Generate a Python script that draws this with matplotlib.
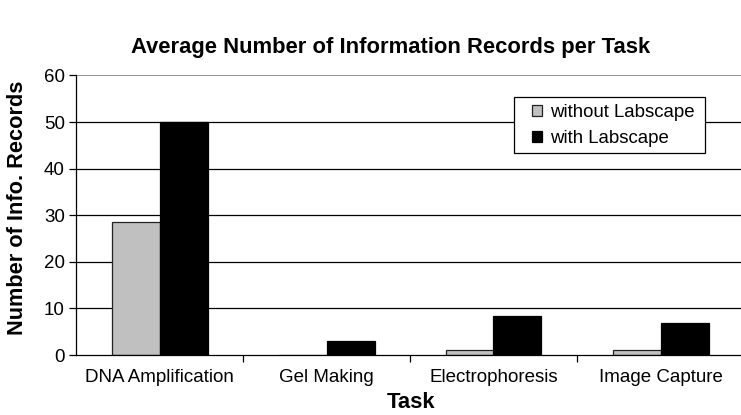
import matplotlib
matplotlib.use("Agg")
import matplotlib.pyplot as plt
from matplotlib.patches import Rectangle
import numpy as np

plt.rcParams['font.family'] = ['Liberation Sans', 'DejaVu Sans']

tasks = ["DNA Amplification", "Gel Making", "Electrophoresis", "Image Capture"]
without_labscape = [28.6, 0, 1.0, 1.0]
with_labscape = [50.0, 3.0, 8.4, 6.9]
series_names = ["without Labscape", "with Labscape"]
y_ticks = [0, 10, 20, 30, 40, 50, 60]

W, H = 741, 415
fig = plt.figure(figsize=(W / 100, H / 100), dpi=100)
# plot area in pixels: left 76, right 744 (slightly past the edge), top 76, bottom 355
left, right, top, bottom = 76, 744, 75.5, 355
ax = fig.add_axes([left / W, 1 - bottom / H, (right - left) / W, (bottom - top) / H])

x = np.arange(len(tasks))
bw = 48 / 167
ax.bar(x - bw / 2, without_labscape, width=bw, color="#c0c0c0",
       edgecolor="#222222", linewidth=0.9, label=series_names[0], zorder=3)
ax.bar(x + bw / 2, with_labscape, width=bw, color="black",
       edgecolor="black", linewidth=0.9, label=series_names[1], zorder=3)

ax.set_xlim(-0.5, len(tasks) - 0.5)
ax.set_ylim(0, 60)
ax.set_yticks(y_ticks)
ax.tick_params(axis='y', labelsize=13.5, length=5, width=0.9, direction='out', pad=3)
ax.set_xticks(x)
ax.set_xticklabels(tasks, fontsize=13.5)
ax.tick_params(axis='x', length=0, pad=10)
ax.set_xticks(np.arange(0.5, len(tasks) - 0.5, 1.0), minor=True)
ax.tick_params(axis='x', which='minor', length=5, width=0.9, direction='out')

for v in y_ticks[1:-1]:
    ax.axhline(v, color="black", linewidth=0.9, zorder=1)
ax.axhline(60, color="#808080", linewidth=1.2, zorder=1)

for s in ["top", "right"]:
    ax.spines[s].set_visible(False)
ax.spines["left"].set_linewidth(0.9)
ax.spines["bottom"].set_linewidth(0.9)
ax.spines["bottom"].set_zorder(4)

fig.text(391 / W, 1 - 47 / H, "Average Number of Information Records per Task",
         ha="center", va="center", fontsize=15.8, fontweight="bold")
fig.text(18 / W, 1 - 208 / H, "Number of Info. Records", rotation=90,
         ha="center", va="center", fontsize=15.7, fontweight="bold")
fig.text(411 / W, 1 - 402 / H, "Task", ha="center", va="center",
         fontsize=15.8, fontweight="bold")

# legend box drawn separately so its padding can be set per side
box = Rectangle((514 / W, 1 - 153 / H), (705 - 514) / W, (153 - 97) / H,
                transform=fig.transFigure, facecolor="white", edgecolor="black",
                linewidth=0.9, zorder=5)
fig.patches.append(box)
leg = ax.legend(loc="upper left", bbox_to_anchor=(532 / W, 1 - 104 / H),
                bbox_transform=fig.transFigure, fontsize=13.4, frameon=False,
                handlelength=0.55, handleheight=0.5, handletextpad=0.42,
                borderpad=0, labelspacing=0.5, borderaxespad=0)
leg.set_zorder(6)
fig.legends.append(leg)
ax.get_legend().remove()

fig.savefig("out.png", dpi=100)
